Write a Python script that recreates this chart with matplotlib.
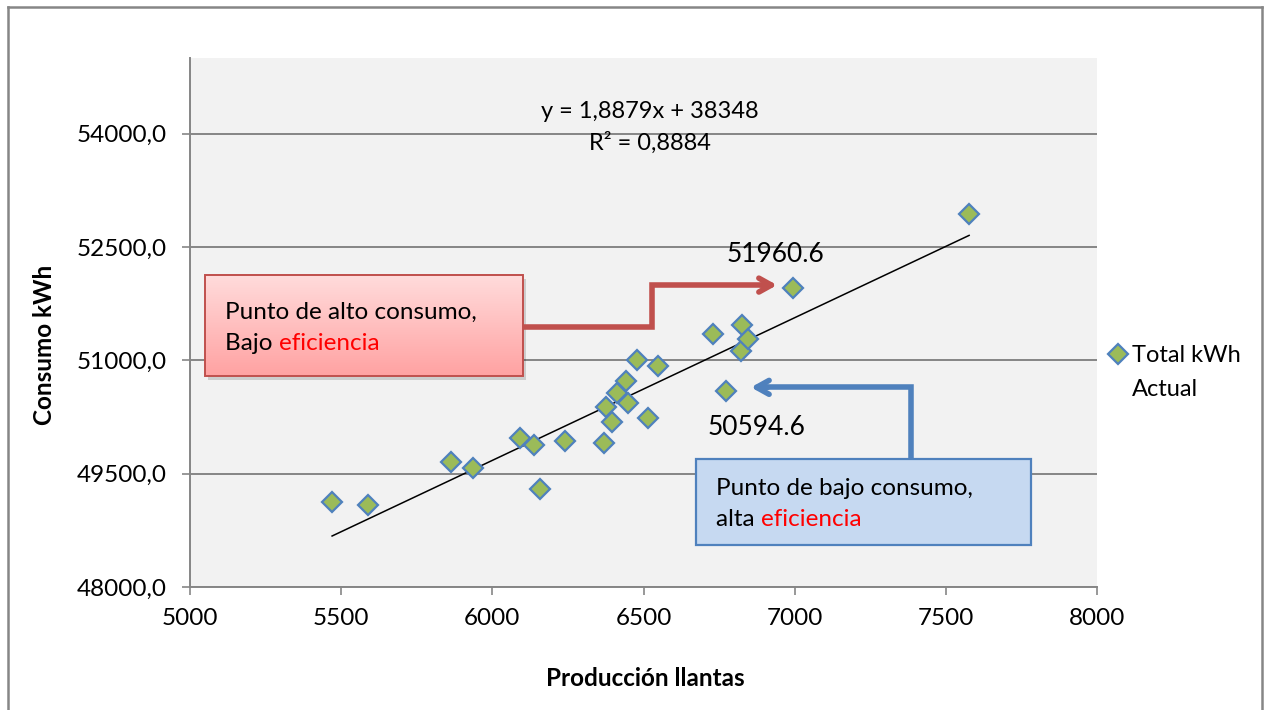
import matplotlib
matplotlib.use('Agg')
import matplotlib.pyplot as plt
from matplotlib.patches import Rectangle
from matplotlib.lines import Line2D
from matplotlib.colors import LinearSegmentedColormap
from matplotlib.ticker import FuncFormatter, MultipleLocator
import numpy as np

# data
produccion = [5470, 5589, 5863, 5936, 6092, 6138, 6158, 6240, 6369, 6376, 6396, 6412,
              6442, 6449, 6479, 6515, 6548, 6730, 6773, 6823, 6826, 6846, 6995, 7577]
consumo = [49128, 49088, 49659, 49580, 49978, 49885, 49300, 49938, 49911, 50376, 50177, 50561,
           50721, 50429, 50999, 50230, 50919, 51344, 50594.6, 51118, 51463, 51278, 51960.6, 52937]
trend_coef = [1.8879, 38348]
r2 = 0.8884
alto_x, alto_y = 6995, 51960.6
bajo_x, bajo_y = 6773, 50594.6

plt.rcParams['font.family'] = ['Lato', 'DejaVu Sans']
GRAY = '#868686'
RED = '#C0504D'
BLUE = '#4F81BD'
FS = 17.5

fig = plt.figure(figsize=(12.69, 7.10), dpi=100)
fig.patch.set_facecolor('white')
ax = fig.add_axes([190/1269, 1 - 587/710, 907/1269, 529/710])
ax.set_facecolor('#F2F2F2')

# outer chart border (bottom edge is off the picture)
fig.add_artist(Line2D([8/1269, 8/1269], [0, 1 - 7/710], color=GRAY, lw=1.8))
fig.add_artist(Line2D([8/1269, 1262/1269], [1 - 7/710, 1 - 7/710], color=GRAY, lw=1.8))
fig.add_artist(Line2D([1262/1269, 1262/1269], [0, 1 - 7/710], color=GRAY, lw=1.8))

# points
pts, = ax.plot(produccion, consumo, linestyle='none', marker='D', markersize=10,
               markerfacecolor='#9BBB59', markeredgecolor=BLUE, markeredgewidth=1.6,
               zorder=5)

# trendline
tx = np.array([min(produccion), max(produccion)])
ax.plot(tx, np.polyval(trend_coef, tx), color='black', lw=1.1, zorder=4)

ax.xaxis.set_major_locator(MultipleLocator(500))
ax.yaxis.set_major_locator(MultipleLocator(1500))
ax.yaxis.set_major_formatter(FuncFormatter(lambda v, p: f'{v:.1f}'.replace('.', ',')))
ax.grid(axis='y', color=GRAY, lw=1.4)
ax.set_axisbelow(True)
for s in ['top', 'right']:
    ax.spines[s].set_visible(False)
for s in ['left', 'bottom']:
    ax.spines[s].set_color(GRAY)
    ax.spines[s].set_linewidth(1.4)
ax.tick_params(axis='both', direction='out', length=6, width=1.2, color=GRAY,
               labelsize=17.5, labelcolor='black')
ax.tick_params(axis='y', pad=11)
ax.tick_params(axis='x', pad=9)

fig.text(645/1269, 1 - 678/710, 'Producción llantas', ha='center', va='center',
         fontsize=17.5, fontweight='bold')
fig.text(45/1269, 1 - 345/710, 'Consumo kWh', ha='center', va='center', rotation=90,
         fontsize=17.5, fontweight='bold')

# equation
ax.text(0.507, 0.898, f'y = {trend_coef[0]:.4f}x + {trend_coef[1]:.0f}'.replace('.', ','),
        transform=ax.transAxes, ha='center', va='center', fontsize=17)
ax.text(0.507, 0.839, f'R² = {r2:.4f}'.replace('.', ','),
        transform=ax.transAxes, ha='center', va='center', fontsize=17)

# data labels
ax.annotate(f'{alto_y}', (alto_x, alto_y), xytext=(-18, 33), textcoords='offset pixels',
            ha='center', va='center', fontsize=19)
ax.annotate(f'{bajo_y}', (bajo_x, bajo_y), xytext=(30, -37), textcoords='offset pixels',
            ha='center', va='center', fontsize=19)

# red callout box with gradient
rx0, rx1, ry0, ry1 = 5050, 6101, 50788, 52128
ax.add_patch(Rectangle((rx0 + 10, ry0 - 50), rx1 - rx0, ry1 - ry0, facecolor='black',
                       alpha=0.15, edgecolor='none', zorder=6))
grad = np.linspace(0, 1, 100).reshape(-1, 1)
cm_red = LinearSegmentedColormap.from_list('r', ['#FFDCDC', '#FFA2A2'])
ax.imshow(grad, extent=[rx0, rx1, ry0, ry1], cmap=cm_red, aspect='auto',
          origin='upper', zorder=7)
ax.add_patch(Rectangle((rx0, ry0), rx1 - rx0, ry1 - ry0, facecolor='none',
                       edgecolor=RED, lw=1.4, zorder=8))

# blue callout box
bx0, bx1, by0, by1 = 6674, 7782, 48558, 49699
ax.add_patch(Rectangle((bx0, by0), bx1 - bx0, by1 - by0, facecolor='#C6D9F1',
                       edgecolor=BLUE, lw=1.6, zorder=7))

ax.set_xlim(5000, 8000)
ax.set_ylim(48000, 55000)

# elbow arrows
ax.plot([6101, 6528, 6528, 6900], [51438, 51438, 51995, 51995], color=RED, lw=4,
        solid_joinstyle='miter', zorder=6)
ax.annotate('', xy=(6951, 51995), xytext=(6880, 51995),
            arrowprops=dict(arrowstyle='->,head_length=0.9,head_width=0.5', color=RED, lw=4),
            zorder=9)
ax.plot([7385, 7385, 6900], [49659, 50642, 50642], color=BLUE, lw=4,
        solid_joinstyle='miter', zorder=6)
ax.annotate('', xy=(6846, 50642), xytext=(6920, 50642),
            arrowprops=dict(arrowstyle='->,head_length=0.9,head_width=0.5', color=BLUE, lw=4),
            zorder=9)

# callout texts with a red word
fig.canvas.draw()
renderer = fig.canvas.get_renderer()


def callout(x, y, line1, line2, word):
    ax.text(x, y, line1, fontsize=FS, ha='left', va='center', zorder=10)
    t = ax.text(x, y - 415, line2, fontsize=FS, ha='left', va='center', zorder=10)
    bb = t.get_window_extent(renderer)
    ax.annotate(word, xy=(bb.x1, bb.y0), xycoords='figure pixels', fontsize=FS,
                color='red', ha='left', va='bottom', zorder=10)


callout(5117, 51640, 'Punto de alto consumo,', 'Bajo ', 'eficiencia')
callout(6740, 49304, 'Punto de bajo consumo,', 'alta ', 'eficiencia')

# legend: marker beside the first line, second line underneath
leg = fig.legend([pts], ['Total kWh'], loc='center left',
                 bbox_to_anchor=(1106/1269, 1 - 356/710), frameon=False,
                 fontsize=17, handletextpad=0.1, borderaxespad=0, borderpad=0,
                 handlelength=1.0)
fig.canvas.draw()
lt = leg.get_texts()[0].get_window_extent(renderer)
fig.text(lt.x0 / 1269, 1 - 389/710, 'Actual', fontsize=17, ha='left', va='center')

fig.savefig('out.png', dpi=100)
